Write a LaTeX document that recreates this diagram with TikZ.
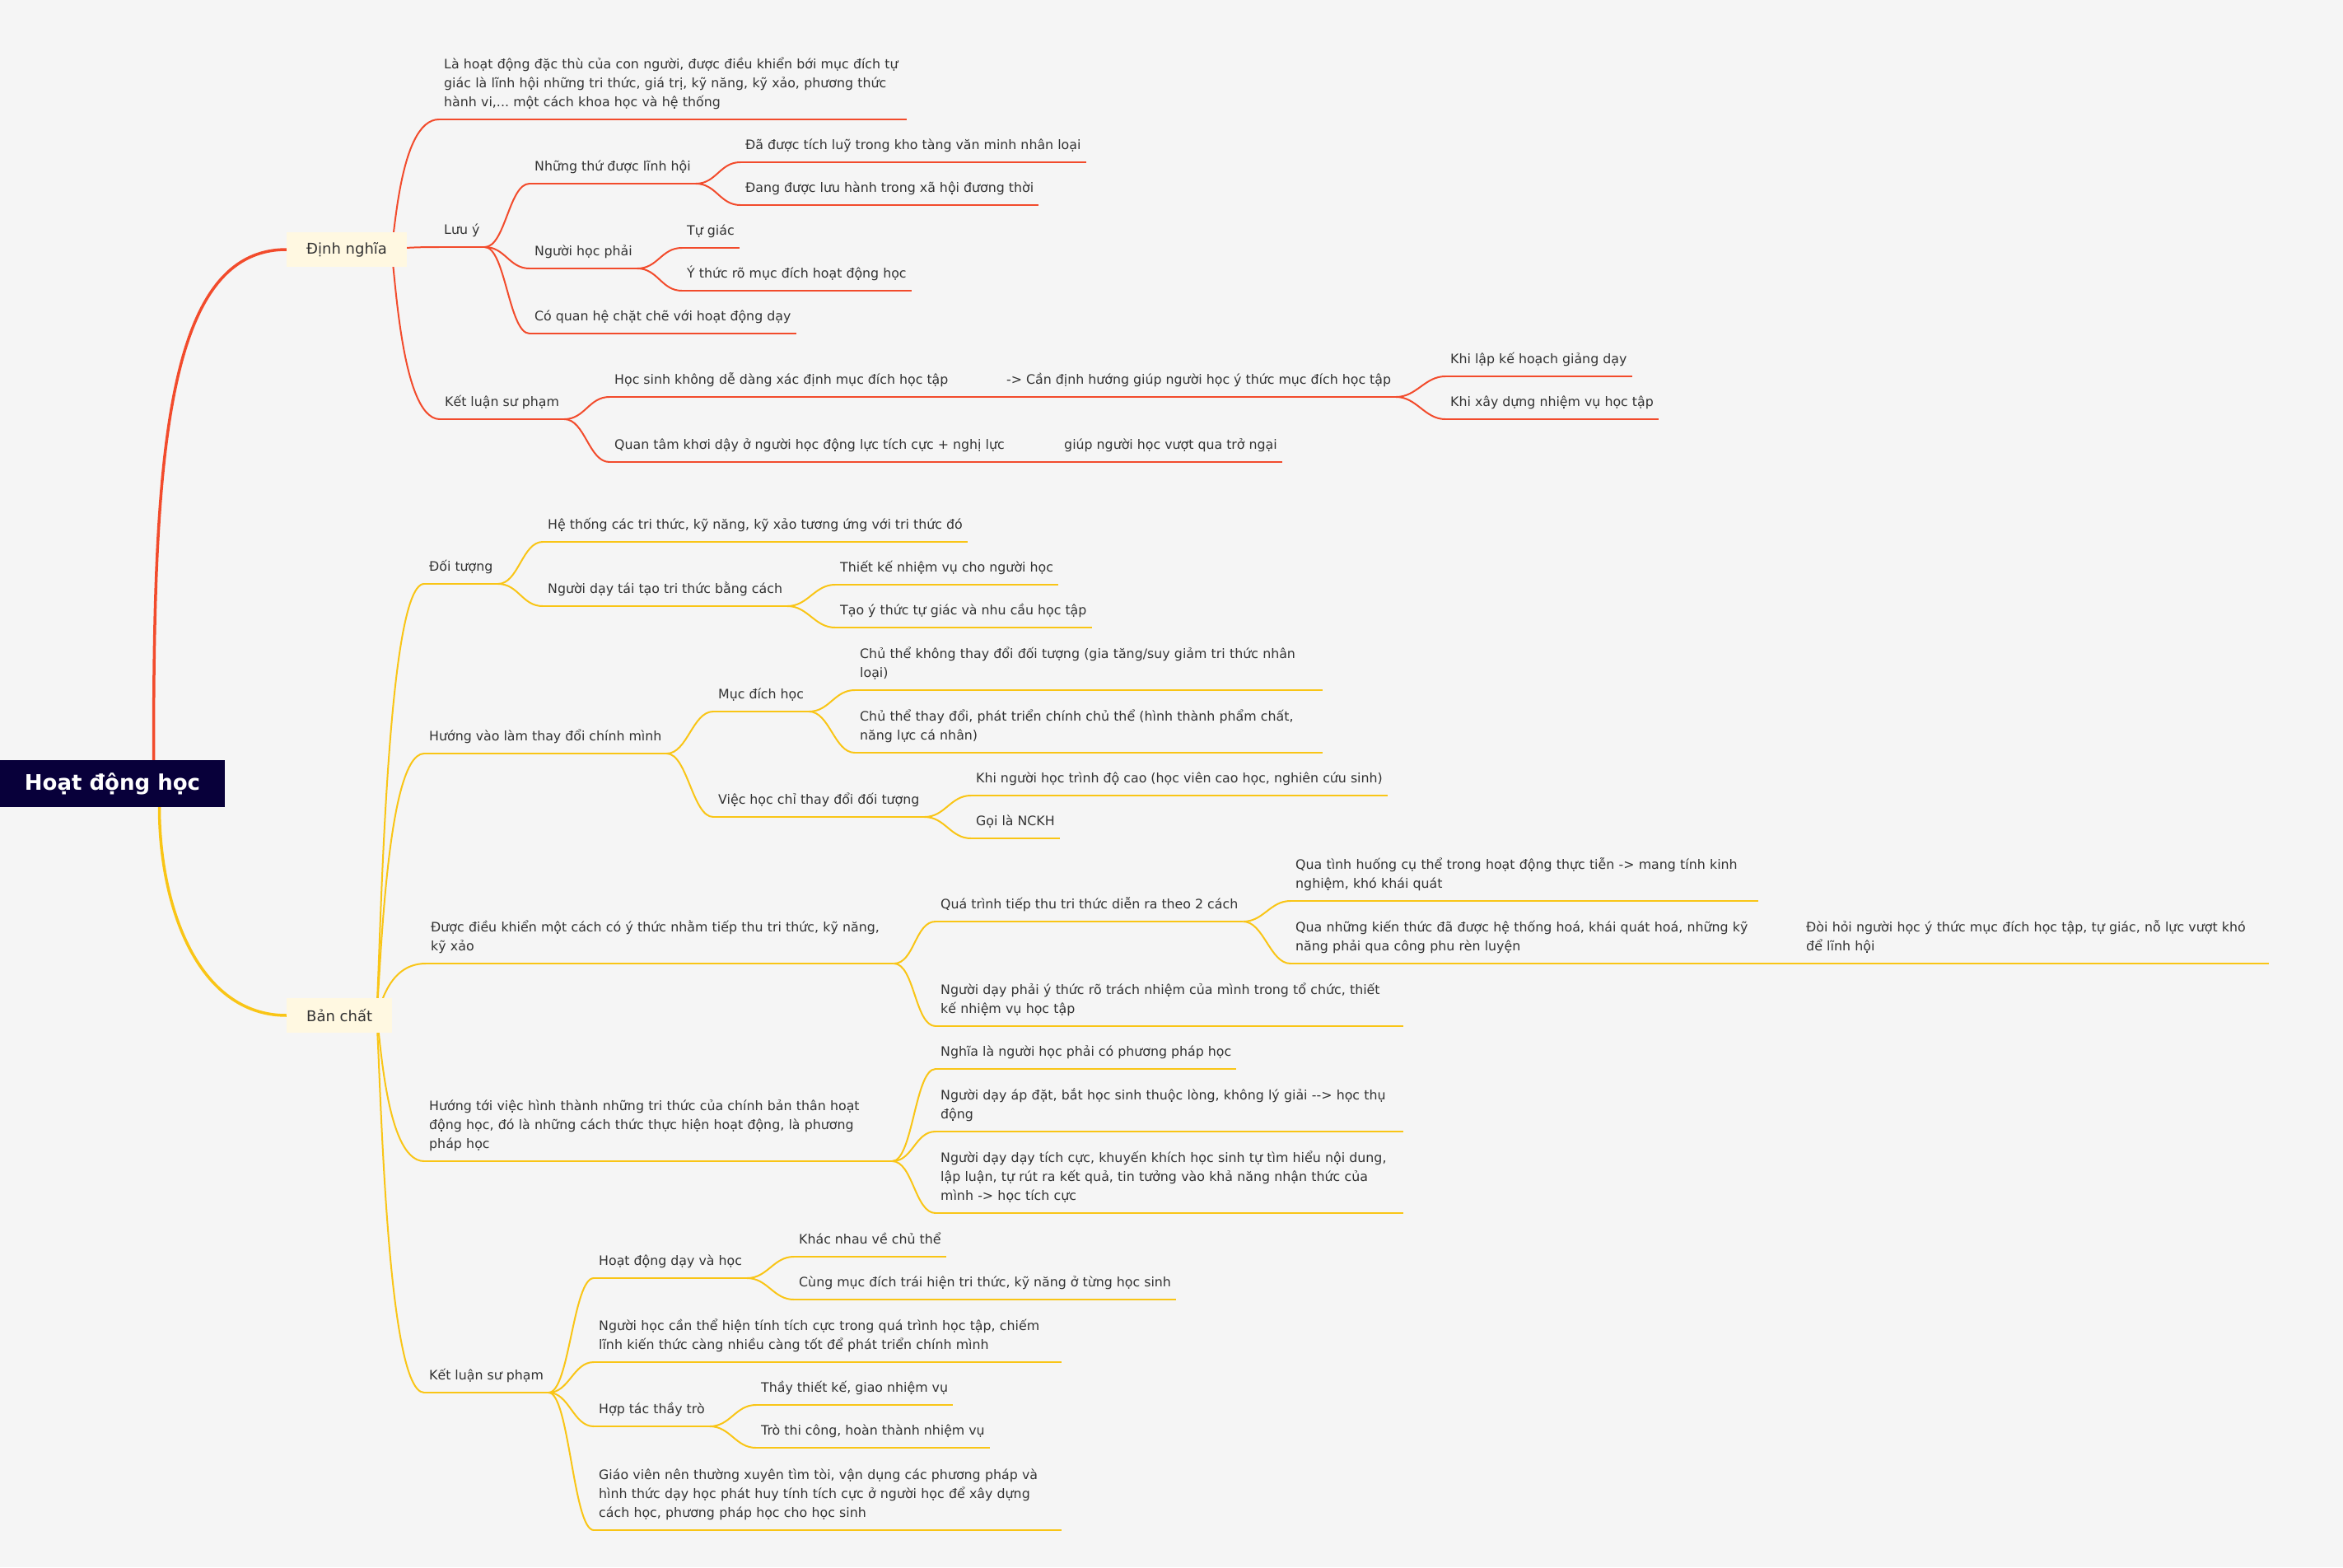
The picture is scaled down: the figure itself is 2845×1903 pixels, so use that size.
\documentclass[tikz,border=0pt]{standalone}
\usepackage{fontspec}
\setmainfont{DejaVu Sans}
\usepackage{tikz}
\usetikzlibrary{positioning}
\pgfdeclarelayer{background}
\pgfsetlayers{background,main}
\definecolor{paper}{HTML}{F5F5F5}
\definecolor{ink}{HTML}{333333}
\definecolor{rootfill}{HTML}{08003A}
\definecolor{catfill}{HTML}{FFF8E1}
\definecolor{redline}{HTML}{F24B2C}
\definecolor{yelline}{HTML}{F9C516}
\frenchspacing

\begin{document}
\begin{tikzpicture}[
  x=1pt, y=-1pt,
  root/.style={fill=rootfill, text=white, font=\fontsize{26pt}{30pt}\selectfont\bfseries,
               minimum width=273pt, minimum height=57pt, inner sep=0pt},
  cat/.style={fill=catfill, text=ink, font=\fontsize{18pt}{22pt}\selectfont,
              anchor=west, minimum height=42pt, inner xsep=24pt, inner ysep=0pt},
  topic/.style={anchor=south west, text=ink, align=left, inner xsep=6pt, inner ysep=8pt,
                font=\fontsize{15.8pt}{23.3pt}\selectfont, execute at end node=\strut},
  wide/.style={topic, text width=556pt},
  trunk/.style={line width=3.5pt},
  twig/.style={line width=2pt}
]
  \useasboundingbox (0,0) rectangle (2845,1903);

  \node[root] (R) at (136.5,951.5) {Hoạt động học};
  \coordinate (Rt) at ([xshift=50pt]R.north);
  \coordinate (Rb) at ([xshift=57pt]R.south);

  % Dinh nghia
  \node[cat] (DN) at (348,303) {Định nghĩa};
  \coordinate (DNo) at ([xshift=-20pt]DN.east);
  \node[wide] (A1) at (533,145) {Là hoạt động đặc thù của con người, được điều khiển bới mục đích tự\\giác là lĩnh hội những tri thức, giá trị, kỹ năng, kỹ xảo, phương thức\\hành vi,... một cách khoa học và hệ thống};
  \node[topic] (A2) at (533,300) {Lưu ý};
  \node[topic] (A3) at (534,509) {Kết luận sư phạm};
  \node[topic] (B1) at (643,223) {Những thứ được lĩnh hội};
  \node[topic] (B2) at (643,326) {Người học phải};
  \node[topic] (B3) at (643,405) {Có quan hệ chặt chẽ với hoạt động dạy};
  \node[topic] (C1) at (899,197) {Đã được tích luỹ trong kho tàng văn minh nhân loại};
  \node[topic] (C2) at (899,249) {Đang được lưu hành trong xã hội đương thời};
  \node[topic] (C3) at (828,301) {Tự giác};
  \node[topic] (C4) at (828,353) {Ý thức rõ mục đích hoạt động học};
  \node[topic] (B4) at (740,482) {Học sinh không dễ dàng xác định mục đích học tập};
  \node[topic] (C5) at (1216,482) {-> Cần định hướng giúp người học ý thức mục đích học tập};
  \node[topic] (D1) at (1755,457) {Khi lập kế hoạch giảng dạy};
  \node[topic] (D2) at (1755,509) {Khi xây dựng nhiệm vụ học tập};
  \node[topic] (B5) at (740,561) {Quan tâm khơi dậy ở người học động lực tích cực + nghị lực};
  \node[topic] (C6) at (1286,561) {giúp người học vượt qua trở ngại};

  % Ban chat
  \node[cat] (BC) at (348,1233) {Bản chất};
  \coordinate (BCo) at ([xshift=-20pt]BC.east);
  \node[topic] (E1) at (515,709) {Đối tượng};
  \node[topic] (E2) at (515,915) {Hướng vào làm thay đổi chính mình};
  \node[wide] (E3) at (517,1170) {Được điều khiển một cách có ý thức nhằm tiếp thu tri thức, kỹ năng,\\kỹ xảo};
  \node[wide] (E4) at (515,1410) {Hướng tới việc hình thành những tri thức của chính bản thân hoạt\\động học, đó là những cách thức thực hiện hoạt động, là phương\\pháp học};
  \node[topic] (E5) at (515,1691) {Kết luận sư phạm};
  \node[topic] (F1) at (659,658) {Hệ thống các tri thức, kỹ năng, kỹ xảo tương ứng với tri thức đó};
  \node[topic] (F2) at (659,736) {Người dạy tái tạo tri thức bằng cách};
  \node[topic] (G1) at (1014,710) {Thiết kế nhiệm vụ cho người học};
  \node[topic] (G2) at (1014,762) {Tạo ý thức tự giác và nhu cầu học tập};
  \node[topic] (F3) at (866,864) {Mục đích học};
  \node[wide] (G3) at (1038,838) {Chủ thể không thay đổi đối tượng (gia tăng/suy giảm tri thức nhân\\loại)};
  \node[wide] (G4) at (1038,914) {Chủ thể thay đổi, phát triển chính chủ thể (hình thành phẩm chất,\\năng lực cá nhân)};
  \node[topic] (F4) at (866,992) {Việc học chỉ thay đổi đối tượng};
  \node[topic] (G5) at (1179,966) {Khi người học trình độ cao (học viên cao học, nghiên cứu sinh)};
  \node[topic] (G6) at (1179,1018) {Gọi là NCKH};
  \node[topic] (F5) at (1136,1119) {Quá trình tiếp thu tri thức diễn ra theo 2 cách};
  \node[wide] (G7) at (1567,1094) {Qua tình huống cụ thể trong hoạt động thực tiễn -> mang tính kinh\\nghiệm, khó khái quát};
  \node[wide] (G8) at (1567,1170) {Qua những kiến thức đã được hệ thống hoá, khái quát hoá, những kỹ\\năng phải qua công phu rèn luyện};
  \node[wide] (H1) at (2187,1170) {Đòi hỏi người học ý thức mục đích học tập, tự giác, nỗ lực vượt khó\\để lĩnh hội};
  \node[wide] (F6) at (1136,1246) {Người dạy phải ý thức rõ trách nhiệm của mình trong tổ chức, thiết\\kế nhiệm vụ học tập};
  \node[topic] (F7) at (1136,1298) {Nghĩa là người học phải có phương pháp học};
  \node[wide] (F8) at (1136,1374) {Người dạy áp đặt, bắt học sinh thuộc lòng, không lý giải -\kern0pt-> học thụ\\động};
  \node[wide] (F9) at (1136,1473) {Người dạy dạy tích cực, khuyến khích học sinh tự tìm hiểu nội dung,\\lập luận, tự rút ra kết quả, tin tưởng vào khả năng nhận thức của\\mình -> học tích cực};
  \node[topic] (F10) at (721,1552) {Hoạt động dạy và học};
  \node[topic] (G9) at (964,1526) {Khác nhau về chủ thể};
  \node[topic] (G10) at (964,1578) {Cùng mục đích trái hiện tri thức, kỹ năng ở từng học sinh};
  \node[wide] (F11) at (721,1654) {Người học cần thể hiện tính tích cực trong quá trình học tập, chiếm\\lĩnh kiến thức càng nhiều càng tốt để phát triển chính mình};
  \node[topic] (F12) at (721,1732) {Hợp tác thầy trò};
  \node[topic] (G11) at (918,1706) {Thầy thiết kế, giao nhiệm vụ};
  \node[topic] (G12) at (918,1758) {Trò thi công, hoàn thành nhiệm vụ};
  \node[wide] (F13) at (721,1858) {Giáo viên nên thường xuyên tìm tòi, vận dụng các phương pháp và\\hình thức dạy học phát huy tính tích cực ở người học để xây dựng\\cách học, phương pháp học cho học sinh};

  \begin{pgfonlayer}{background}
    \fill[paper] (0,0) rectangle (2845,1903);
    \draw[trunk, redline] (Rt) .. controls +(0,-363) and +(-148,0) .. (DN.west);
    \draw[trunk, yelline] (Rb) .. controls +(0,120) and +(-108,0) .. (BC.west);
    % underlines
    \foreach \n in {A1,A2,A3,B1,B2,B3,B4,B5,C1,C2,C3,C4,C5,C6,D1,D2}
      \draw[twig, redline] (\n.south west) -- (\n.south east);
    \foreach \n in {E1,E2,E3,E4,E5,F1,F2,F3,F4,F5,F6,F7,F8,F9,F10,F11,F12,F13,
                    G1,G2,G3,G4,G5,G6,G7,G8,G9,G10,G11,G12,H1}
      \draw[twig, yelline] (\n.south west) -- (\n.south east);
    % branches
    \foreach \b in {A1,A2,A3}
      \draw[twig, redline] (DNo) .. controls +(5,0) and +(-50,0) .. (\b.south west);
    \foreach \b in {E1,E2,E3,E4,E5}
      \draw[twig, yelline] (BCo) .. controls +(5,0) and +(-50,0) .. (\b.south west);
    \foreach \a/\b in {A2/B1,A2/B2,A2/B3,B1/C1,B1/C2,B2/C3,B2/C4,A3/B4,A3/B5,
                       B4/C5,C5/D1,C5/D2,B5/C6}
      \draw[twig, redline] (\a.south east) .. controls +(25,0) and +(-25,0) .. (\b.south west);
    \foreach \a/\b in {E1/F1,E1/F2,F2/G1,F2/G2,E2/F3,E2/F4,F3/G3,F3/G4,F4/G5,F4/G6,
                       E3/F5,E3/F6,F5/G7,F5/G8,G8/H1,E4/F7,E4/F8,E4/F9,
                       E5/F10,E5/F11,E5/F12,E5/F13,F10/G9,F10/G10,F12/G11,F12/G12}
      \draw[twig, yelline] (\a.south east) .. controls +(25,0) and +(-25,0) .. (\b.south west);
  \end{pgfonlayer}
\end{tikzpicture}
\end{document}
